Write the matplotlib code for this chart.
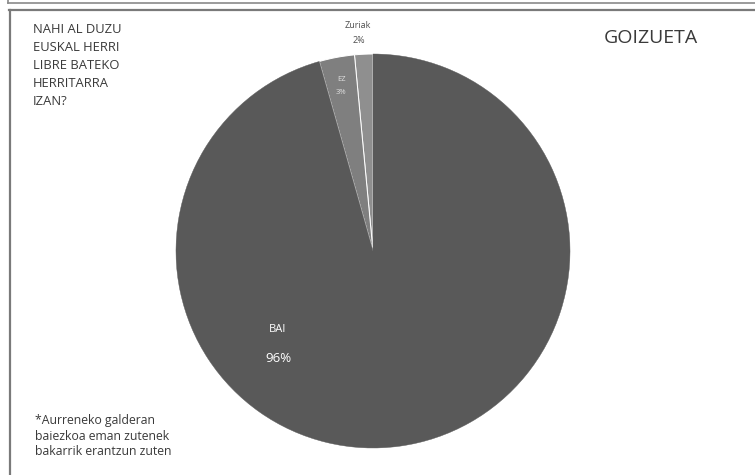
import matplotlib
matplotlib.use('Agg')
import matplotlib.pyplot as plt
from matplotlib.lines import Line2D

plt.rcParams['font.family'] = ['Open Sans', 'DejaVu Sans']

# datuak (ordena: erlojuaren kontrako noranzkoan, goitik hasita)
labels = ['ZURIAK', 'EZ', 'BAI']
values = [1.5, 2.9, 95.6]
colors = ['#8f8f8f', '#7f7f7f', '#595959']
pct_labels = ['2%', '3%', '96%']

question = 'NAHI AL DUZU\nEUSKAL HERRI\nLIBRE BATEKO\nHERRITARRA\nIZAN?'
note = '*Aurreneko galderan\nbaiezkoa eman zutenek\nbakarrik erantzun zuten'
title = 'GOIZUETA'

W, H = 755, 475
fig = plt.figure(figsize=(W / 100, H / 100), dpi=100)

def fx(x):
    return x / W

def fy(y):
    return 1 - y / H

# markoa
fig.add_artist(Line2D([fx(8), 1], [fy(3), fy(3)], color='#8a8a8a', lw=1.2))
fig.add_artist(Line2D([fx(8), fx(8)], [1, fy(3)], color='#8a8a8a', lw=1.2))
fig.add_artist(Line2D([fx(9), 1], [fy(10), fy(10)], color='#7a7a7a', lw=1.6))
fig.add_artist(Line2D([fx(10), fx(10)], [fy(10), 0], color='#7a7a7a', lw=1.6))

# tarta
cx, cy, r = 373, 251, 197
ax = fig.add_axes([fx(cx - r), fy(cy + r), 2 * r / W, 2 * r / H])
wedges, _ = ax.pie(values, colors=colors, startangle=90, counterclock=True,
                   wedgeprops=dict(edgecolor='white', linewidth=0.7))
wedges[2].set_edgecolor('#595959')
wedges[2].set_linewidth(0.3)
ax.set_xlim(-1, 1)
ax.set_ylim(-1, 1)
ax.set_aspect('auto')
ax.axis('off')

def px(x, y):
    return (x - cx) / r, (cy - y) / r

# etiketak
ax.text(*px(278, 330), labels[2], color='white', fontsize=8, ha='center', va='center')
ax.text(*px(278, 358), pct_labels[2], color='white', fontsize=9.5, ha='center', va='center')
ax.text(*px(341, 80), labels[1], color='#e0e0e0', fontsize=5.5, ha='center', va='center')
ax.text(*px(341, 93), pct_labels[1], color='#e0e0e0', fontsize=5.5, ha='center', va='center')
ax.text(*px(358, 26), labels[0].capitalize(), color='#505050', fontsize=6.5, ha='center', va='center')
ax.text(*px(359, 41), pct_labels[0], color='#505050', fontsize=6.5, ha='center', va='center')

fig.text(fx(33), fy(23), question, color='#3a3a3a', fontsize=9.4, ha='left', va='top',
         linespacing=1.5)
fig.text(fx(35), fy(414), note, color='#3a3a3a', fontsize=8.8, ha='left', va='top',
         linespacing=1.25)
fig.text(fx(651), fy(38), title, color='#3a3a3a', fontsize=14, ha='center', va='center')

fig.savefig('out.png', dpi=100, facecolor='white')
